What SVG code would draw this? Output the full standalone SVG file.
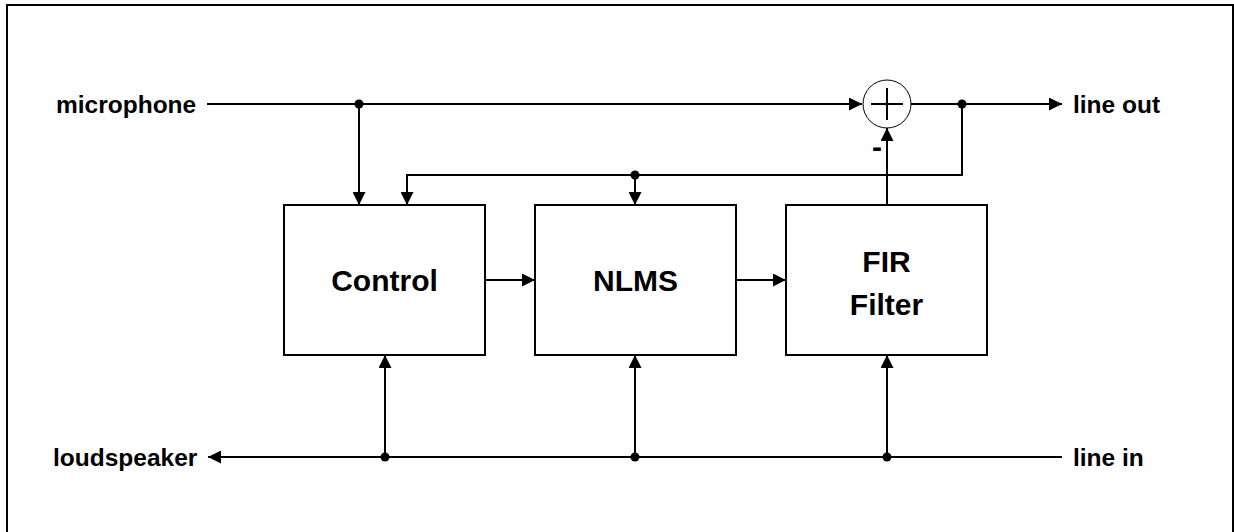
<svg xmlns="http://www.w3.org/2000/svg" width="1234" height="532" viewBox="0 0 1234 532">
<style>
.box{fill:#fff;stroke:#000;stroke-width:2}
.ln{fill:none;stroke:#000;stroke-width:2}
.arr{marker-end:url(#ah)}
.dot{fill:#000}
.lbl{font-family:"Liberation Sans",Arial,sans-serif;font-weight:bold;font-size:24.5px;fill:#000}
.big{font-family:"Liberation Sans",Arial,sans-serif;font-weight:bold;font-size:30px;fill:#000;text-anchor:middle}
</style>
<defs>
<marker id="ah" markerUnits="userSpaceOnUse" markerWidth="13" markerHeight="13" refX="13" refY="6.5" orient="auto">
<path d="M0,0 L13,6.5 L0,13 Z" fill="#000"/>
</marker>
</defs>
<rect width="1234" height="532" fill="#fff"/>
<path d="M7,540 V5 H1233 V540" fill="none" stroke="#000" stroke-width="2"/>

<g id="connectors">
<line class="ln arr" x1="207" y1="104" x2="862" y2="104"/>
<line class="ln arr" x1="359" y1="104" x2="359" y2="205"/>
<line class="ln arr" x1="911" y1="104" x2="1062" y2="104"/>
<polyline class="ln arr" points="962,104 962,175 407,175 407,205"/>
<line class="ln arr" x1="635" y1="175" x2="635" y2="205"/>
<line class="ln arr" x1="887" y1="205" x2="887" y2="128"/>
<line class="ln arr" x1="485" y1="280" x2="535" y2="280"/>
<line class="ln arr" x1="736" y1="280" x2="786" y2="280"/>
<line class="ln arr" x1="1062" y1="457" x2="208" y2="457"/>
<line class="ln arr" x1="385" y1="457" x2="385" y2="355"/>
<line class="ln arr" x1="635" y1="457" x2="635" y2="355"/>
<line class="ln arr" x1="887" y1="457" x2="887" y2="355"/>
<circle class="dot" cx="359" cy="104" r="4.5"/>
<circle class="dot" cx="962" cy="104" r="4.5"/>
<circle class="dot" cx="635" cy="175" r="4.5"/>
<circle class="dot" cx="385" cy="457" r="4.5"/>
<circle class="dot" cx="635" cy="457" r="4.5"/>
<circle class="dot" cx="887" cy="457" r="4.5"/>
</g>

<g id="control">
<rect class="box" x="284" y="205" width="201" height="150"/>
<text class="big" x="384.5" y="291">Control</text>
</g>
<g id="nlms">
<rect class="box" x="535" y="205" width="201" height="150"/>
<text class="big" x="635.5" y="291">NLMS</text>
</g>
<g id="fir">
<rect class="box" x="786" y="205" width="201" height="150"/>
<text class="big" x="886.5" y="272">FIR</text>
<text class="big" x="886.5" y="315">Filter</text>
</g>
<g id="sum">
<circle cx="887" cy="104" r="24" fill="#fff" stroke="#000" stroke-width="1"/>
<path d="M871,104 H903 M887,88 V120" stroke="#000" stroke-width="2"/>
<text class="big" x="877" y="157">-</text>
</g>
<g id="microphone"><text class="lbl" x="56" y="113">microphone</text></g>
<g id="lineout"><text class="lbl" x="1073" y="113">line out</text></g>
<g id="loudspeaker"><text class="lbl" x="53" y="466">loudspeaker</text></g>
<g id="linein"><text class="lbl" x="1073" y="466">line in</text></g>
</svg>
